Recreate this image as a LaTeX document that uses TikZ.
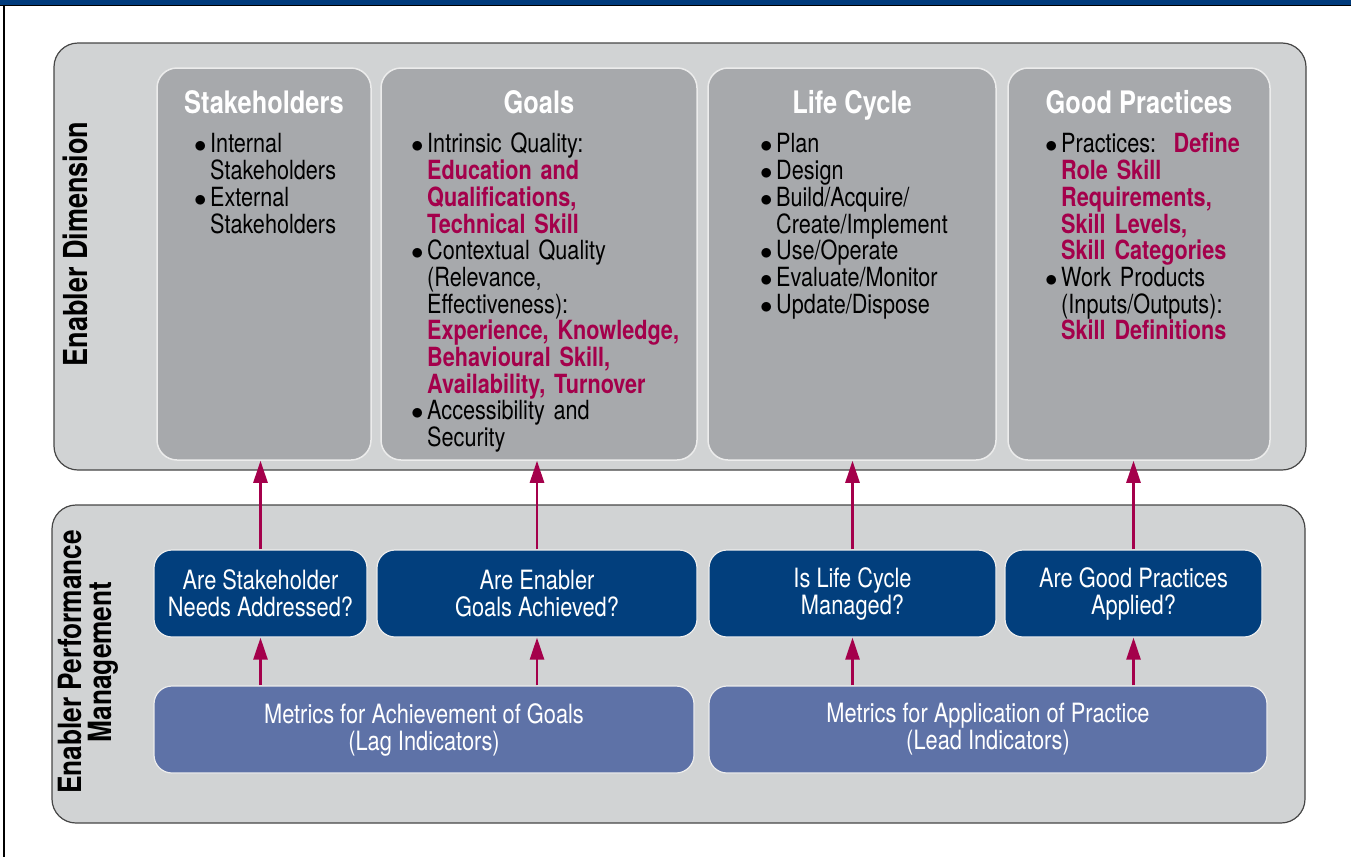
\documentclass[tikz,border=0pt]{standalone}
\usepackage{fontspec}
\setmainfont{TeX Gyre Heros}[FakeStretch=0.82]
\usetikzlibrary{arrows.meta, positioning}

\definecolor{barblue}{HTML}{003B7C}
\definecolor{panelgray}{HTML}{D1D3D4}
\definecolor{boxgray}{HTML}{A7A9AC}
\definecolor{qblue}{HTML}{023F7D}
\definecolor{metricblue}{HTML}{5E72A7}
\definecolor{crimson}{HTML}{A4004B}

\newcommand{\hilite}[1]{\textcolor{crimson}{\bfseries #1}}
\newcommand{\bitem}{\par\noindent\hangindent=16pt\hangafter=1\makebox[16pt][l]{$\bullet$}}

\begin{document}
\begin{tikzpicture}[x=1pt, y=-1pt,
  panel/.style={draw=gray!55!black, line width=1.2pt, fill=panelgray, rounded corners=24pt},
  dimbox/.style={draw=white!85!gray, line width=1.5pt, fill=boxgray, rounded corners=20pt},
  qbox/.style={draw=white!85!gray, line width=1.2pt, fill=qblue, rounded corners=18pt,
    minimum height=87pt, text=white, align=center, font=\fontsize{26.6}{27}\selectfont},
  metric/.style={qbox, fill=metricblue},
  boxtitle/.style={text=white, inner sep=0pt, text height=22pt, text depth=0pt,
    font=\fontsize{31}{34}\selectfont\bfseries},
  itemlist/.style={anchor=north west, text width=320pt, align=left, inner sep=0pt,
    font=\fontsize{26.4}{26.7}\selectfont},
  sidelabel/.style={rotate=90, align=center, inner sep=0pt, font=\bfseries},
  uparrow/.style={crimson, line width=2.6pt, -{Triangle[width=14pt,length=22pt]}}]
\useasboundingbox (0,0) rectangle (1351,857);

% header bar and frame
\fill[barblue] (0,0) rectangle (1351,5);
\draw[black, line width=1.5pt] (0,5.5) -- (1351,5.5);
\draw[black, line width=1.5pt] (4,5.5) -- (4,857);

% panels
\node[panel, minimum width=1252pt, minimum height=427pt] (dim) at (680,256.5) {};
\node[panel, minimum width=1253pt, minimum height=318pt] (epm) at (678.5,664) {};

\node[sidelabel, anchor=base, font=\fontsize{33}{36}\selectfont\bfseries] (dimL) at (87,244) {Enabler Dimension};
\node[sidelabel, font=\fontsize{32}{30}\selectfont\bfseries] (epmL) at (88,662) {Enabler Performance\\Management};

% enabler dimension boxes
\node[dimbox, minimum width=214pt, minimum height=392pt] (sh) at (264,264) {};
\node[dimbox, minimum width=316pt, minimum height=392pt] (gl) at (539,264) {};
\node[dimbox, minimum width=288pt, minimum height=392pt] (lc) at (852,264) {};
\node[dimbox, minimum width=262pt, minimum height=392pt] (gp) at (1139,264) {};

\node[boxtitle, below=24pt of sh.north] (shT) {Stakeholders};
\node[boxtitle, below=24pt of gl.north] (glT) {Goals};
\node[boxtitle, below=24pt of lc.north] (lcT) {Life Cycle};
\node[boxtitle, below=24pt of gp.north] (gpT) {Good Practices};

\node[itemlist] (shL) at (194,126) {%
  \bitem Internal\newline Stakeholders
  \bitem External\newline Stakeholders\par};
\node[itemlist] (glL) at (411,126) {%
  \bitem Intrinsic Quality:\newline \hilite{Education and}\newline \hilite{Qualifications,}\newline \hilite{Technical Skill}
  \bitem Contextual Quality\newline (Relevance,\newline Effectiveness):\newline \hilite{Experience, Knowledge,}\newline \hilite{Behavioural Skill,}\newline \hilite{Availability, Turnover}
  \bitem Accessibility and\newline Security\par};
\node[itemlist] (lcL) at (760,126) {%
  \bitem Plan
  \bitem Design
  \bitem Build/Acquire/\newline Create/Implement
  \bitem Use/Operate
  \bitem Evaluate/Monitor
  \bitem Update/Dispose\par};
\node[itemlist] (gpL) at (1045,126) {%
  \bitem Practices:\ \ \hilite{Define}\newline \hilite{Role Skill}\newline \hilite{Requirements,}\newline \hilite{Skill Levels,}\newline \hilite{Skill Categories}
  \bitem Work Products\newline (Inputs/Outputs):\newline \hilite{Skill Definitions}\par};

% performance questions
\node[qbox, minimum width=213pt] (q1) at (260.5,593.5) {Are Stakeholder\\Needs Addressed?};
\node[qbox, minimum width=320pt] (q2) at (537,593.5) {Are Enabler\\Goals Achieved?};
\node[qbox, minimum width=287pt] (q3) at (852.5,593.5) {Is Life Cycle\\Managed?};
\node[qbox, minimum width=257pt] (q4) at (1133.5,593.5) {Are Good Practices\\Applied?};

% metrics
\node[metric, minimum width=540pt] (lag) at (424,729.5) {Metrics for Achievement of Goals\\(Lag Indicators)};
\node[metric, minimum width=558pt] (lead) at (988,729.5) {Metrics for Application of Practice\\(Lead Indicators)};

% arrows
\foreach \q/\b in {q1/sh, q2/gl, q3/lc, q4/gp}
  \draw[uparrow] (\q.north) -- (\q.north |- \b.south);
\draw[uparrow] (lag.north -| q1) -- (q1.south);
\draw[uparrow] (lag.north -| q2) -- (q2.south);
\draw[uparrow] (lead.north -| q3) -- (q3.south);
\draw[uparrow] (lead.north -| q4) -- (q4.south);
\end{tikzpicture}
\end{document}
